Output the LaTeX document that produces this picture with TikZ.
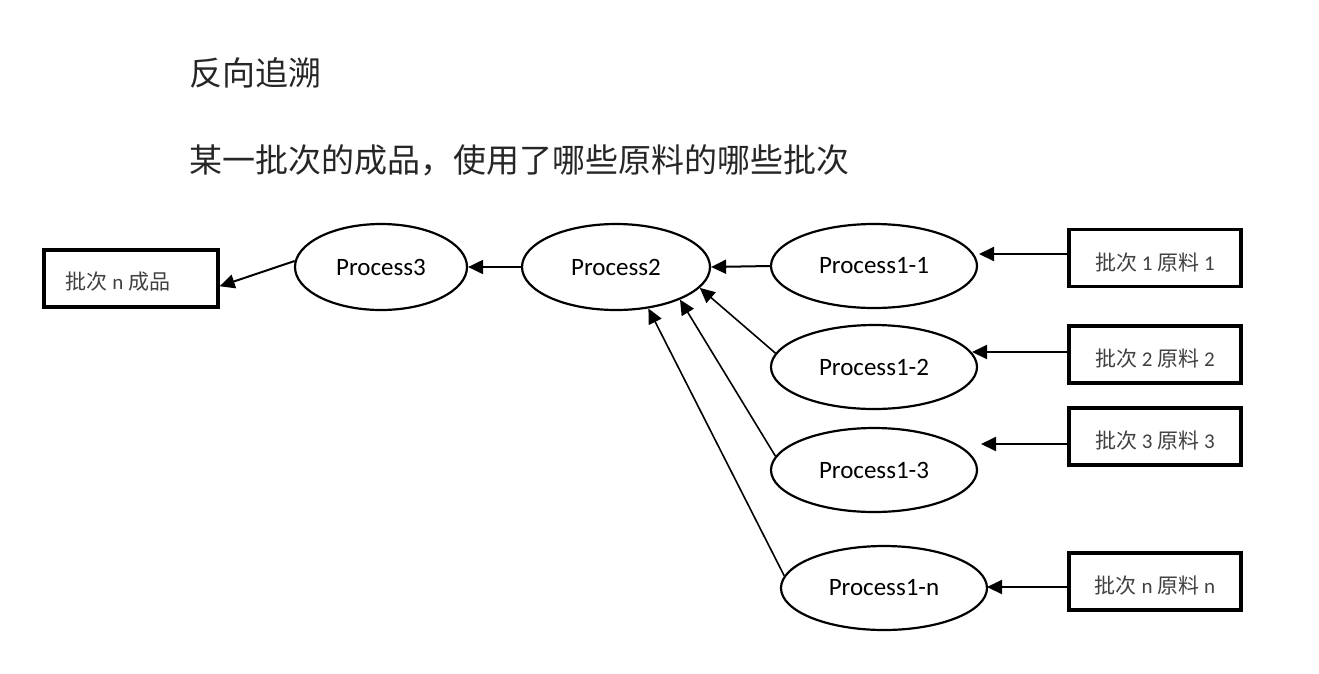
\documentclass[tikz,border=0pt]{standalone}
\usepackage{fontspec}
\setmainfont{Carlito}
\newfontfamily\cjk{Noto Sans CJK SC}
\usetikzlibrary{arrows.meta,shapes.geometric}
\newcommand{\lowtext}[2]{\raisebox{#1}[0pt][0pt]{#2}}
\begin{document}
\begin{tikzpicture}[x=1pt,y=-1pt,
  proc/.style={ellipse, draw, line width=2.2pt, inner sep=0pt,
    minimum width=206pt, minimum height=84pt, font=\fontsize{25}{30}\selectfont},
  batchbox/.style={rectangle, draw, line width=3.3pt, inner sep=0pt,
    minimum width=172pt, minimum height=57pt, text=black!75,
    font=\fontsize{21}{25}\selectfont},
  arr/.style={line width=2pt, -{Triangle[length=15pt,width=14pt]}},
  arrthin/.style={line width=1.6pt, -{Triangle[length=15pt,width=14pt]}},
  titletext/.style={anchor=west, inner sep=0pt, text=black!85,
    font=\cjk\fontsize{33}{40}\selectfont}
]
\useasboundingbox (0,0) rectangle (1319,673);

% titles
\node[titletext] (title) at (189,73) {反向追溯};
\node[titletext] (sub) at (189,160) {某一批次的成品，使用了哪些原料的哪些批次};

% product box
\node[batchbox, minimum width=174pt] (fp) at (131,278.5)
  {\hspace*{-26pt}\lowtext{-11pt}{{\cjk 批次} n {\cjk 成品}}};

% process ellipses
\node[proc, minimum width=172pt, minimum height=86pt] (p3) at (381,267) {Process3};
\node[proc, minimum width=188pt, minimum height=86pt] (p2) at (616,267) {Process2};
\node[proc] (p11) at (874,266) {Process1-1};
\node[proc] (p12) at (874,367) {Process1-2};
\node[proc] (p13) at (874,470) {Process1-3};
\node[proc] (p1n) at (884,588) {Process1-n};

% raw material boxes
\node[batchbox] (b1) at (1155,258) {\lowtext{-12pt}{{\cjk 批次} 1 {\cjk 原料} 1}};
\node[batchbox] (b2) at (1155,354.5) {\lowtext{-12pt}{{\cjk 批次} 2 {\cjk 原料} 2}};
\node[batchbox] (b3) at (1155,436.5) {\lowtext{-12pt}{{\cjk 批次} 3 {\cjk 原料} 3}};
\node[batchbox] (bn) at (1155,581.5) {\lowtext{-12pt}{{\cjk 批次} n {\cjk 原料} n}};

% arrow tip coordinates
\coordinate (t1) at (979,254);
\coordinate (t2) at (972,352);
\coordinate (t3) at (981,444);
\coordinate (tn) at (987,587);

% connectors
\draw[arr] (p3.176) -- (fp.-5);
\draw[arr] (p2.west) -- (p3.east);
\draw[arr] (p11.west) -- (p2.east);
\draw[arrthin] (p12.172) -- (p2.-14);
\draw[arrthin] (p13.172) -- (p2.-27);
\draw[arrthin] (p1n.173) -- (p2.-52);

\draw[arr] (b1.west |- t1) -- (t1);
\draw[arr] (b2.west |- t2) -- (t2);
\draw[arr] (b3.west |- t3) -- (t3);
\draw[arr] (bn.west |- tn) -- (tn);
\end{tikzpicture}
\end{document}
